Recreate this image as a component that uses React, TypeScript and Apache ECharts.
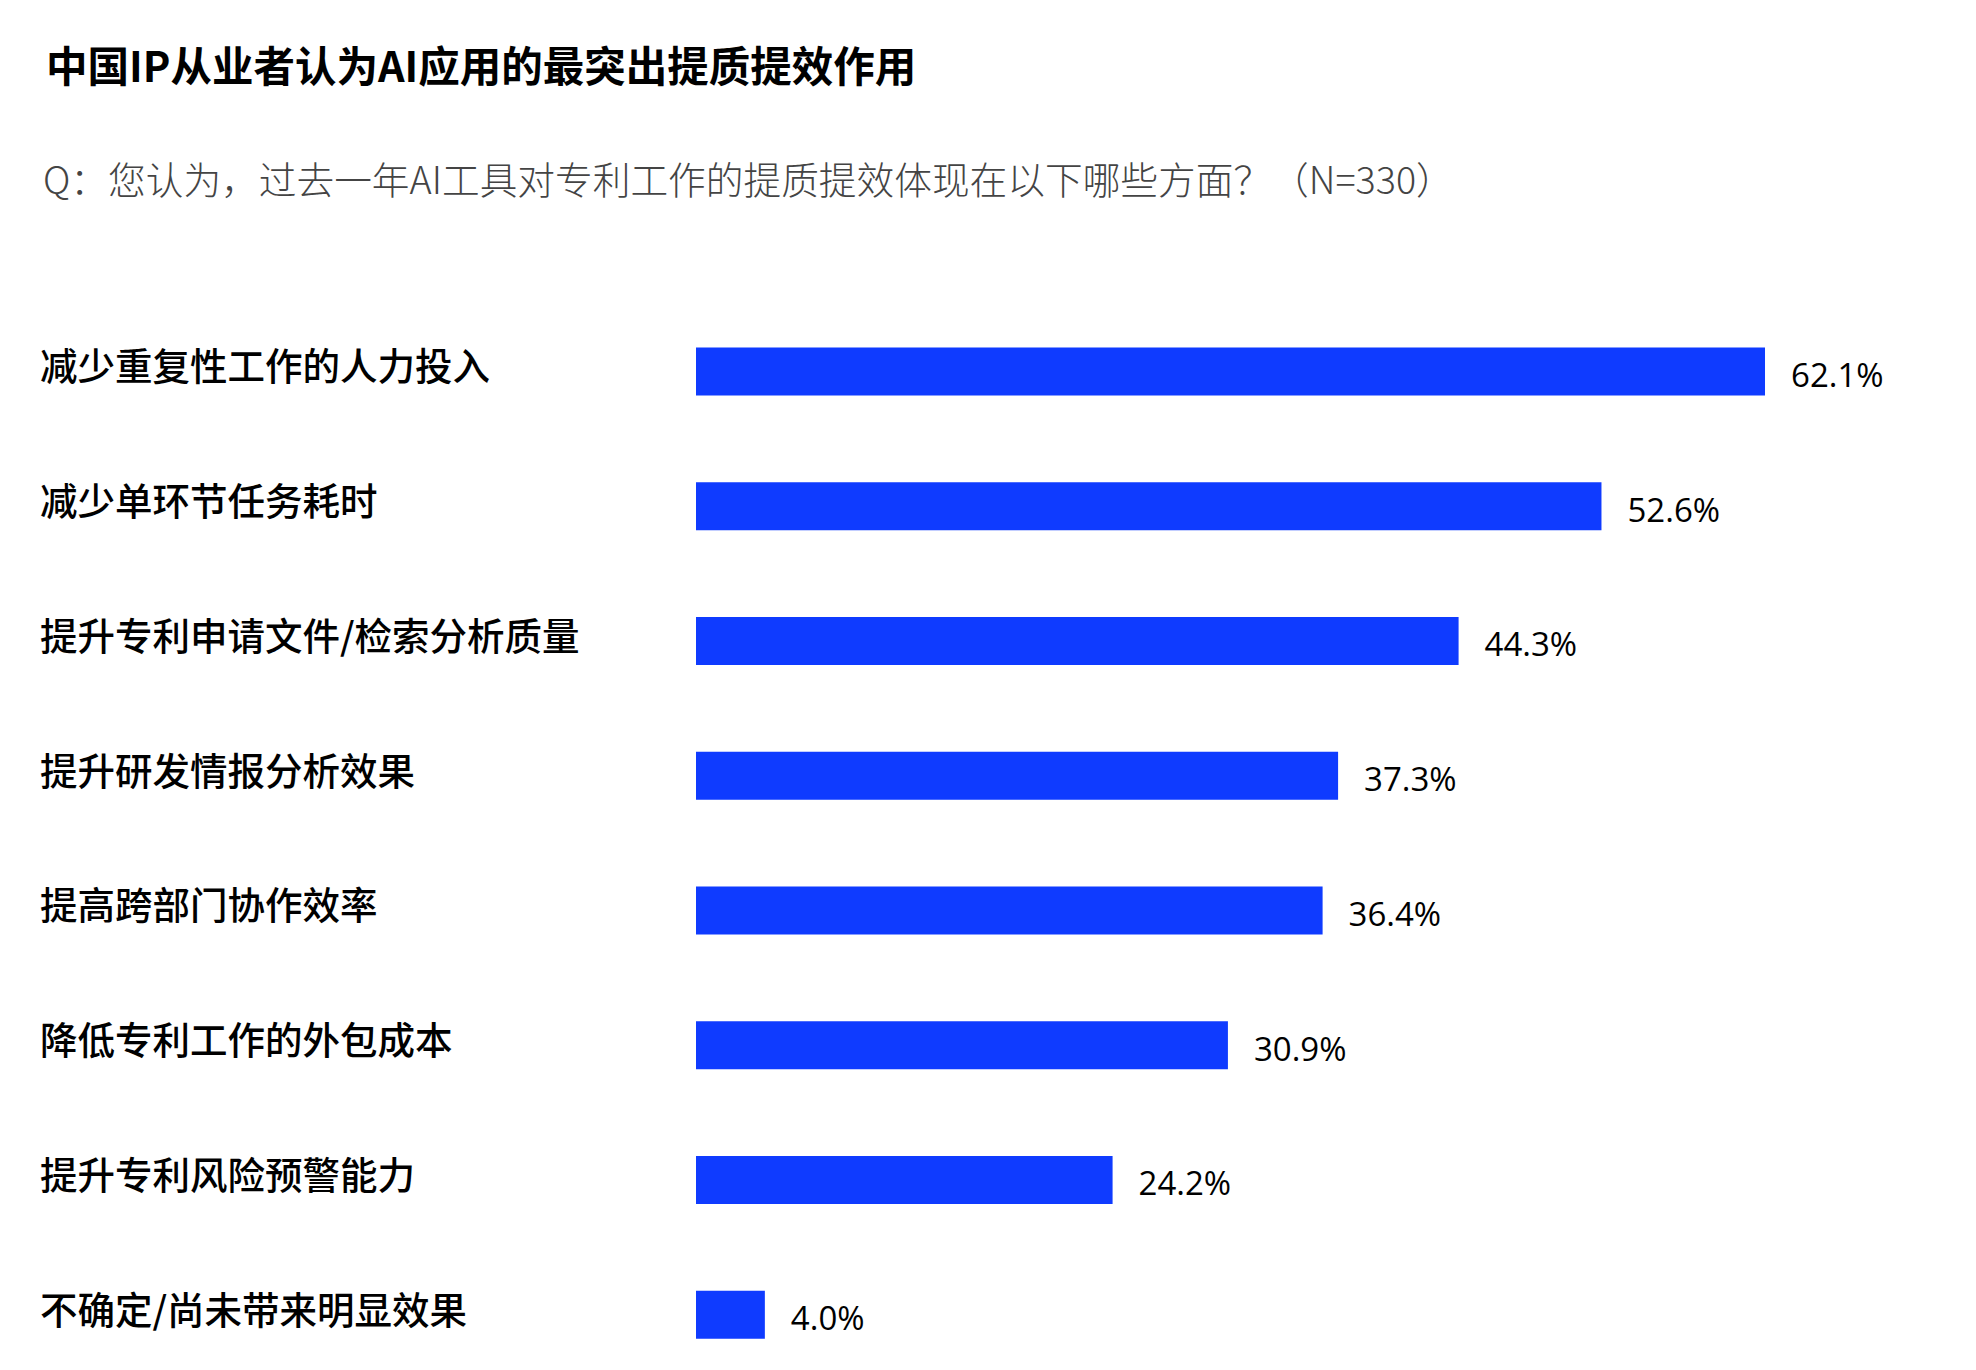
import React, { useEffect, useRef } from "react";
import * as echarts from "echarts";

const titleText = "中国IP从业者认为AI应用的最突出提质提效作用";
const subtitleText = "Q：您认为，过去一年AI工具对专利工作的提质提效体现在以下哪些方面？（N=330）";

const categories = [
  "减少重复性工作的人力投入",
  "减少单环节任务耗时",
  "提升专利申请文件/检索分析质量",
  "提升研发情报分析效果",
  "提高跨部门协作效率",
  "降低专利工作的外包成本",
  "提升专利风险预警能力",
  "不确定/尚未带来明显效果",
];

const values = [62.1, 52.6, 44.3, 37.3, 36.4, 30.9, 24.2, 4.0];

export default function App() {
  const ref = useRef<HTMLDivElement>(null);
  useEffect(() => {
    if (!ref.current) return;
    const chart = echarts.init(ref.current, undefined, { renderer: "svg" });
    chart.setOption({
      animation: false,
      backgroundColor: "#ffffff",
      title: [
        {
          text: titleText,
          left: 41,
          top: 38,
          textStyle: {
            fontFamily: "Noto Sans CJK SC",
            fontSize: 41.5,
            fontWeight: "bold",
            color: "#000000",
          },
        },
        {
          text: subtitleText,
          left: 38,
          top: 154,
          textStyle: {
            fontFamily: "Noto Sans CJK SC",
            fontSize: 37.7,
            fontWeight: 300,
            color: "#444444",
          },
        },
      ],
      grid: {
        left: 696,
        top: 304,
        width: 1205,
        height: 1078,
        containLabel: false,
      },
      xAxis: {
        type: "value",
        min: 0,
        max: 70,
        show: false,
      },
      yAxis: {
        type: "category",
        data: categories,
        inverse: true,
        axisLine: { show: false },
        axisTick: { show: false },
        splitLine: { show: false },
        axisLabel: {
          align: "left",
          verticalAlign: "bottom",
          lineHeight: 15,
          margin: 656,
          fontFamily: "Noto Sans CJK SC",
          fontSize: 37.5,
          fontWeight: 500,
          color: "#000000",
        },
      },
      series: [
        {
          type: "bar",
          data: values,
          barWidth: 48,
          itemStyle: { color: "#0f3bff" },
          label: {
            show: true,
            position: "right",
            distance: 26,
            verticalAlign: "top",
            lineHeight: 6,
            formatter: (p: any) => p.value.toFixed(1) + "%",
            fontFamily: "Open Sans",
            fontSize: 33,
            color: "#000000",
          },
        },
      ],
    });
    return () => chart.dispose();
  }, []);
  return (
    <div
      ref={ref}
      style={{ position: "fixed", left: 0, top: 0, width: 1976, height: 1410 }}
    />
  );
}
